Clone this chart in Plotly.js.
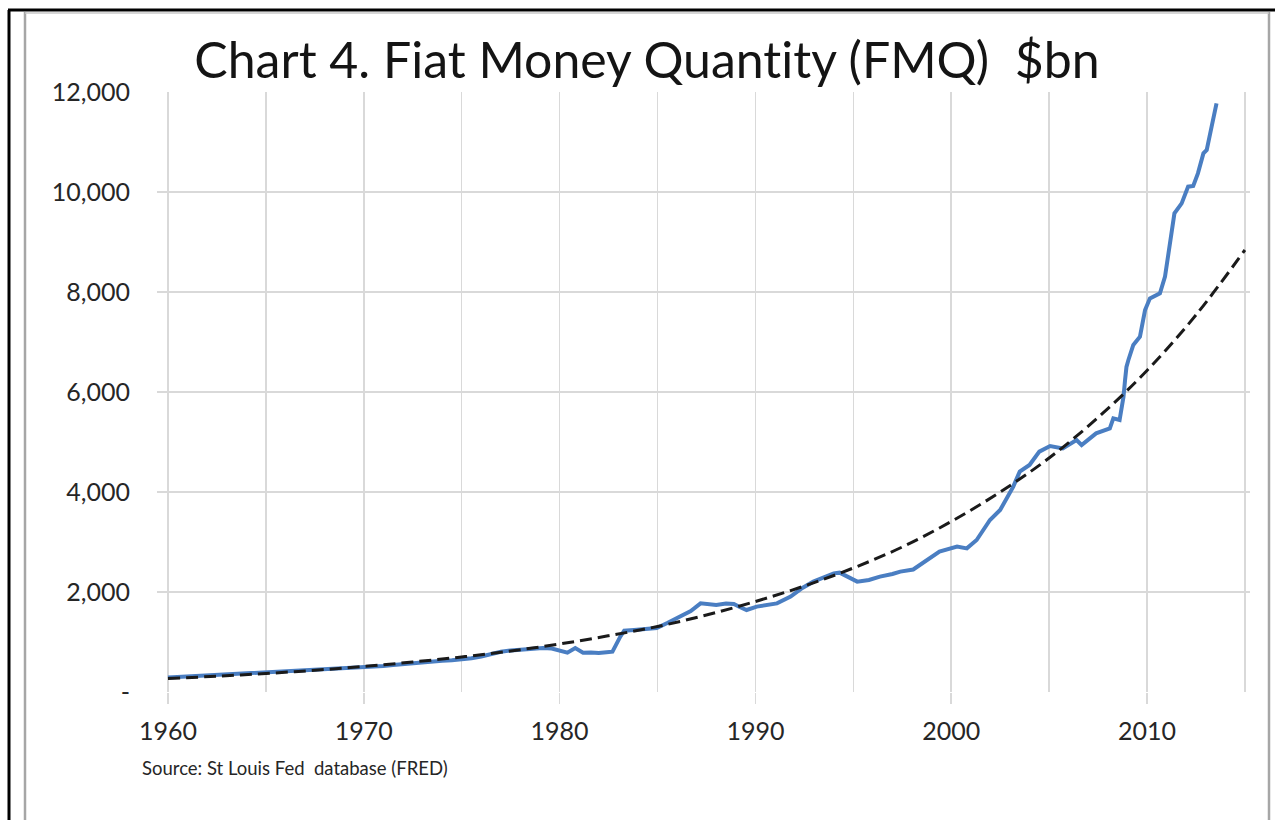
<!DOCTYPE html>
<html>
<head>
<meta charset="utf-8">
<script src="https://cdn.plot.ly/plotly-3.0.1.min.js"></script>
<style>
html,body{margin:0;padding:0;background:#fff;}
#chart{width:1275px;height:820px;}
</style>
</head>
<body>
<div id="chart"></div>
<script>
// Blue line: Fiat Money Quantity ($bn)
const fmqYears = [1960.0,1960.5,1961,1961.5,1962,1962.5,1963,1963.5,1964,1964.5,1965,1965.5,1966,1966.5,1967,1967.5,1968,1968.5,1969,1969.5,
  1970,1970.5,1971,1971.5,1972,1972.5,1973,1973.5,1974,1974.5,1975,1975.5,1976,1976.5,1977,1977.5,1978,1978.5,1979.15,1979.6,
  1980.0,1980.4,1980.8,1981.2,1981.6,1982.0,1982.4,1982.7,1983.1,1983.3,1983.8,1984.3,1984.96,1985.5,1986.15,1986.7,1987.2,1987.6,1988.0,1988.5,
  1988.9,1989.2,1989.55,1990.07,1990.5,1991.1,1991.8,1992.4,1992.96,1993.5,1994.0,1994.3,1994.75,1995.2,1995.8,1996.36,1997.0,1997.4,1998.06,1998.7,
  1999.4,2000.3,2000.8,2001.3,2001.98,2002.5,2003.17,2003.5,2004.0,2004.5,2005.05,2005.7,2006.4,2006.66,2007.4,2008.1,2008.28,2008.6,2008.8,2008.88,
  2008.95,2009.05,2009.3,2009.64,2009.9,2010.15,2010.66,2010.92,2011.17,2011.4,2011.77,2012.1,2012.36,2012.6,2012.88,2013.05,2013.3,2013.55];
const fmqValues = [290,300,310,318,330,340,350,360,372,385,395,410,420,425,435,450,465,475,480,485,
  495,505,520,540,560,580,600,612,625,635,650,675,710,760,806,830,850,870,880,870,
  820,787,880,787,790,780,795,806,1107,1227,1240,1260,1280,1380,1507,1620,1773,1760,1740,1770,
  1760,1700,1640,1707,1730,1773,1907,2080,2207,2300,2373,2387,2307,2207,2240,2307,2360,2407,2450,2620,
  2807,2907,2873,3040,3440,3640,4107,4407,4540,4807,4920,4873,5040,4940,5173,5273,5473,5440,5907,6240,
  6500,6640,6940,7107,7640,7873,7973,8307,8907,9573,9773,10107,10120,10373,10773,10840,11307,11773];

// Dashed trend line
const trendYears = [1960,1962.5,1965,1967.5,1970,1972.5,1975,1977.5,1980,1982.5,1985,1987.5,1990,1992.5,1995,1997.5,2000,2002.5,2005,2007.5,2010,2012.5,2015];
const trendValues = [270,315,370,435,510,600,700,820,960,1125,1310,1540,1810,2120,2480,2900,3410,4000,4680,5490,6430,7540,8840];

// Axis labels
const xTickVals = [1960,1970,1980,1990,2000,2010];
const xTickText = ['1960','1970','1980','1990','2000','2010'];
const yTickVals = [0,2000,4000,6000,8000,10000,12000];
const yTickText = ['-','2,000','4,000','6,000','8,000','10,000','12,000'];

const FONT = 'Lato, "Open Sans", "Liberation Sans", sans-serif';
const GRID = '#d9d9d9';
const TXT = '#262626';

// plot area pixels: left 157, right 1250, top 92, bottom 692
const L = 157, R = 1250, T = 92, B = 692;
const px = v => (v - L) / (R - L);
const py = v => (B - v) / (B - T);

const traces = [
  {
    x: fmqYears, y: fmqValues, type: 'scatter', mode: 'lines',
    line: {color: '#4a7ec2', width: 4},
    hoverinfo: 'x+y', showlegend: false
  },
  {
    x: trendYears, y: trendValues, type: 'scatter', mode: 'lines',
    line: {color: '#1a1a1a', width: 3, dash: '12px,6px', shape: 'spline'},
    hoverinfo: 'x+y', showlegend: false
  }
];

const layout = {
  width: 1275, height: 820,
  margin: {l: L, r: 1275 - R, t: T, b: 820 - B, pad: 0},
  paper_bgcolor: '#ffffff', plot_bgcolor: '#ffffff',
  font: {family: FONT, color: TXT},
  title: {
    text: 'Chart 4. Fiat Money Quant\u200City (FMQ)  $bn',
    font: {family: FONT, size: 50, color: '#141414'},
    x: px(647), xref: 'paper', xanchor: 'center',
    y: 1 - 60 / 820, yref: 'container', yanchor: 'middle'
  },
  xaxis: {
    range: [1959.44, 2015.26],
    tickmode: 'array', tickvals: xTickVals, ticktext: xTickText,
    ticks: 'outside', ticklen: 11, tickwidth: 1.5, tickcolor: GRID,
    tickfont: {family: FONT, size: 25, color: TXT},
    ticklabelstandoff: 6,
    showgrid: true, gridcolor: GRID, gridwidth: 1.5,
    minor: {dtick: 5, tick0: 1960, showgrid: true, gridcolor: GRID, gridwidth: 1.5, ticks: ''},
    showline: false, zeroline: false, fixedrange: true
  },
  yaxis: {
    range: [0, 12000],
    tickmode: 'array', tickvals: yTickVals, ticktext: yTickText,
    ticks: '', tickfont: {family: FONT, size: 25, color: TXT},
    ticklabelstandoff: 26,
    showgrid: true, gridcolor: GRID, gridwidth: 1.5,
    showline: false, zeroline: false, fixedrange: true
  },
  annotations: [
    {
      text: 'Source: St Louis Fed  database (FRED)',
      xref: 'paper', yref: 'paper', x: px(140), y: py(768),
      xanchor: 'left', yanchor: 'middle', showarrow: false,
      font: {family: FONT, size: 18.5, color: TXT}
    }
  ],
  shapes: [
    // outer black frame (left and top)
    {type: 'line', xref: 'paper', yref: 'paper', x0: px(9), x1: px(9), y0: py(10), y1: py(825), line: {color: '#000000', width: 3}},
    {type: 'line', xref: 'paper', yref: 'paper', x0: px(8), x1: px(1280), y0: py(10), y1: py(10), line: {color: '#000000', width: 3}},
    // inner gray frame
    {type: 'line', xref: 'paper', yref: 'paper', x0: px(25), x1: px(25), y0: py(12), y1: py(825), line: {color: '#a6a6a6', width: 2.5}},
    {type: 'line', xref: 'paper', yref: 'paper', x0: px(1269), x1: px(1269), y0: py(12), y1: py(825), line: {color: '#a6a6a6', width: 2.5}},
    {type: 'line', xref: 'paper', yref: 'paper', x0: px(25), x1: px(1269), y0: py(13), y1: py(13), line: {color: '#c8c8c8', width: 1.5}}
  ]
};

Plotly.newPlot('chart', traces, layout, {displayModeBar: false, staticPlot: true});
</script>
</body>
</html>
